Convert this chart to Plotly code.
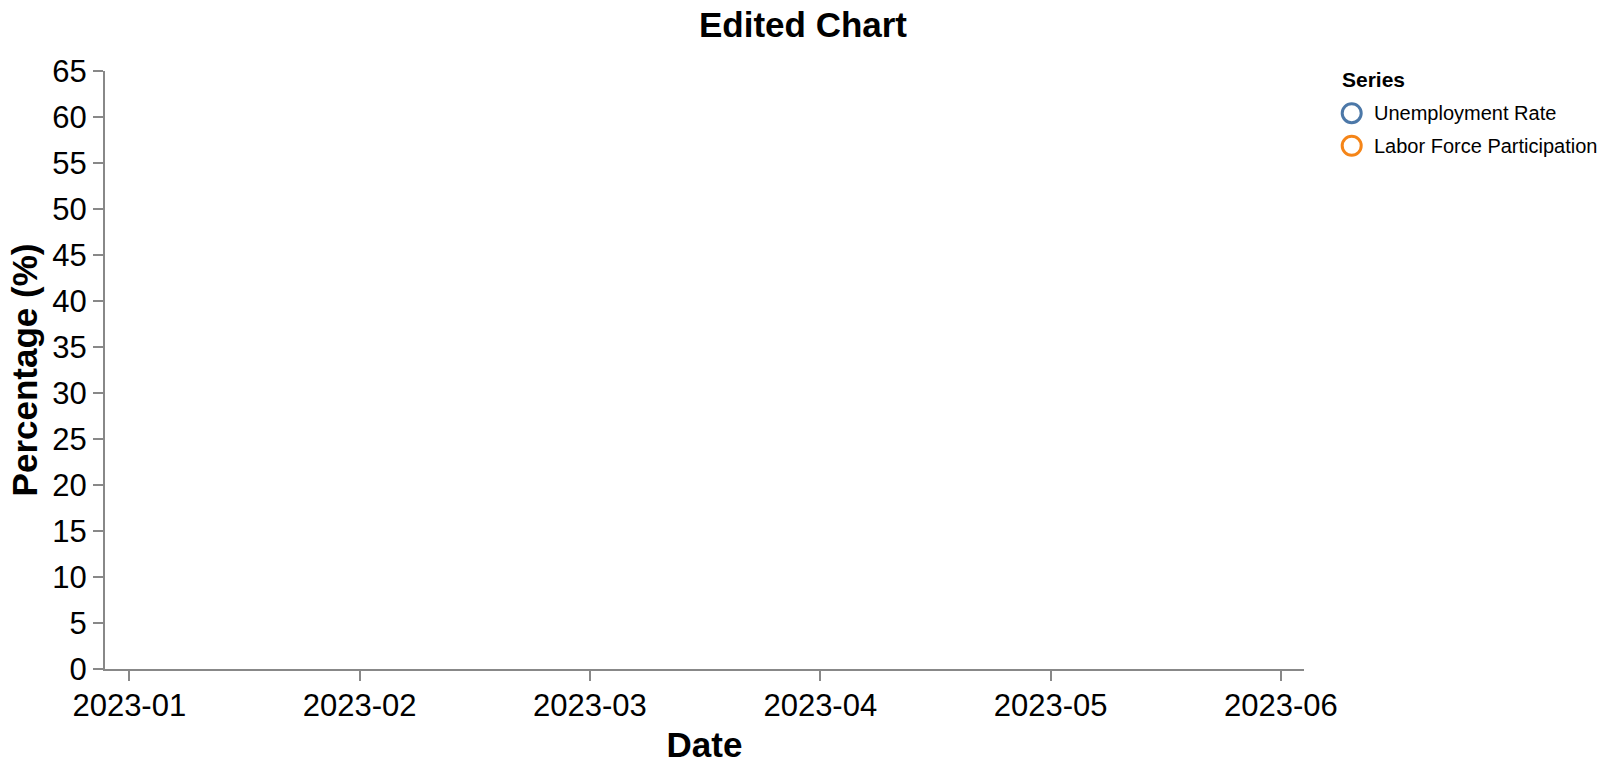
import plotly.graph_objects as go

# ---- data ----
months = ["2023-01", "2023-02", "2023-03", "2023-04", "2023-05", "2023-06"]
series_names = ["Unemployment Rate", "Labor Force Participation"]
unemployment_rate = []          # no visible points in the chart
labor_force_participation = []  # no visible points in the chart
y_ticks = list(range(0, 66, 5))

# ---- styles ----
colors = ["#4c78a8", "#f58518"]
FONT = "Liberation Sans, Arial, Helvetica, sans-serif"
AXIS = "#888888"
W, H = 1606, 770
L, R, T, B = 105, 1304, 71, 671  # plot area in pixels

fig = go.Figure()
for name, vals, col in zip(series_names, [unemployment_rate, labor_force_participation], colors):
    fig.add_trace(go.Scatter(
        x=[months.index(m) for m, _ in vals] if vals else [],
        y=[v for _, v in vals] if vals else [],
        mode="lines+markers", name=name,
        line=dict(color=col, width=2), marker=dict(color=col),
        showlegend=False,
    ))

def px_x(px):
    return (px - L) / (R - L)

def px_y(py):
    return (B - py) / (B - T)

annotations = []
shapes = []
# legend title
annotations.append(dict(
    text="<b>Series</b>", x=px_x(1340), y=px_y(80), xref="paper", yref="paper",
    xanchor="left", yanchor="middle", showarrow=False,
    font=dict(family=FONT, size=21, color="#000"),
))
for i, (name, col) in enumerate(zip(series_names, colors)):
    cy = 113.3 + i * 32.7
    shapes.append(dict(
        type="circle", xref="paper", yref="paper",
        xsizemode="pixel", ysizemode="pixel",
        xanchor=px_x(1351.7), yanchor=px_y(cy),
        x0=-9.5, x1=9.5, y0=-9.5, y1=9.5,
        line=dict(color=col, width=3), fillcolor="rgba(0,0,0,0)",
    ))
    annotations.append(dict(
        text=name, x=px_x(1372), y=px_y(cy), xref="paper", yref="paper",
        xanchor="left", yanchor="middle", showarrow=False,
        font=dict(family=FONT, size=20, color="#000"),
    ))

fig.update_layout(
    width=W, height=H,
    margin=dict(l=L, r=W - R, t=T, b=H - B, pad=0),
    paper_bgcolor="white", plot_bgcolor="white",
    title=dict(text="<b>Edited Chart</b>", x=0.5, xref="container", xanchor="center",
               y=1 - 24.5 / H, yref="container", yanchor="middle",
               font=dict(family=FONT, size=35, color="#000")),
    xaxis=dict(
        range=[-0.1055, 5.1], tickmode="array",
        tickvals=list(range(len(months))), ticktext=months,
        showgrid=False, zeroline=False, showline=True, linecolor=AXIS, linewidth=2,
        ticks="outside", ticklen=10, tickwidth=2, tickcolor=AXIS,
        ticklabelstandoff=-2,
        tickfont=dict(family=FONT, size=31, color="#000"),
        title=dict(text="<b>Date</b>", font=dict(family=FONT, size=35, color="#000"), standoff=10),
    ),
    yaxis=dict(
        range=[0, 65], tickmode="array", tickvals=y_ticks,
        showgrid=False, zeroline=False, showline=True, linecolor=AXIS, linewidth=2,
        ticks="outside", ticklen=10, tickwidth=2, tickcolor=AXIS,
        tickfont=dict(family=FONT, size=31, color="#000"),
        title=dict(text="<b>Percentage (%)</b>", font=dict(family=FONT, size=35, color="#000"), standoff=4),
    ),
    annotations=annotations, shapes=shapes,
    showlegend=False,
)

fig.write_html("out.html")
